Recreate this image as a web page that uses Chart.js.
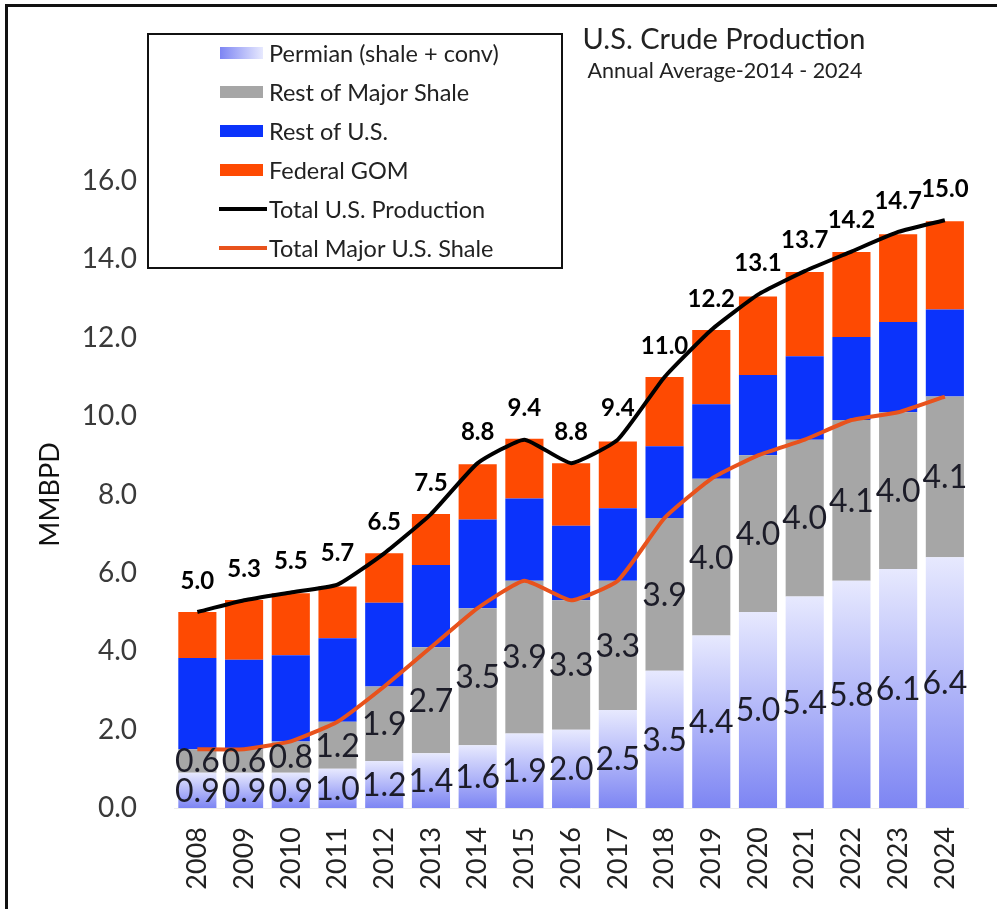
<!DOCTYPE html>
<html>
<head>
<meta charset="utf-8">
<script src="https://cdn.jsdelivr.net/npm/chart.js@4.4.1/dist/chart.umd.min.js"></script>
<style>
    html, body { margin: 0; padding: 0; background: #fff; }
    #wrap { position: relative; width: 997px; height: 909px; overflow: hidden; }
    #frame { position: absolute; left: 5px; top: 4px; right: -10px; bottom: -10px;
             border-top: 3px solid #111; border-left: 3px solid #111; }
    canvas { position: absolute; left: 0; top: 0; }
</style>
</head>
<body>
<div id="wrap">
    <div id="frame"></div>
    <canvas id="chart" width="997" height="909"></canvas>
</div>
<script>
    // Data (MMBPD)
    const years = ["2008","2009","2010","2011","2012","2013","2014","2015","2016",
                   "2017","2018","2019","2020","2021","2022","2023","2024"];
    const permian    = [0.9,0.9,0.9,1.0,1.2,1.4,1.6,1.9,2.0,2.5,3.5,4.4,5.0,5.4,5.8,6.1,6.4];
    const restShale  = [0.6,0.6,0.8,1.2,1.9,2.7,3.5,3.9,3.3,3.3,3.9,4.0,4.0,4.0,4.1,4.0,4.1];
    const restUS     = [2.33,2.28,2.2,2.13,2.14,2.1,2.26,2.1,1.9,1.85,1.83,1.9,2.05,2.13,2.12,2.3,2.22];
    const fedGOM     = [1.17,1.53,1.58,1.32,1.26,1.3,1.41,1.52,1.6,1.7,1.77,1.9,2.0,2.15,2.17,2.24,2.25];
    const totalProd  = [5.0,5.3,5.5,5.7,6.5,7.5,8.8,9.4,8.8,9.4,11.0,12.2,13.1,13.7,14.2,14.7,15.0];
    const majorShale = [1.5,1.5,1.7,2.2,3.1,4.1,5.1,5.8,5.3,5.8,7.4,8.4,9.0,9.4,9.9,10.1,10.5];
    const yTicks     = [0,2,4,6,8,10,12,14,16];

    const FONT = "Lato, 'Open Sans', sans-serif";
    const GRAD_TOP = "#e7e9fe";
    const GRAD_BOT = "#7d85f3";

    function permianFill(ctx) {
        const chart = ctx.chart;
        if (!chart.chartArea || ctx.type !== "data") return GRAD_BOT;
        const y = chart.scales.y;
        const top = y.getPixelForValue(permian[ctx.dataIndex]);
        const g = chart.ctx.createLinearGradient(0, top, 0, y.getPixelForValue(0));
        g.addColorStop(0, GRAD_TOP);
        g.addColorStop(1, GRAD_BOT);
        return g;
    }

    // title + legend box + value labels
    const decor = {
        id: "decor",
        afterDatasetsDraw(chart) {
            const c = chart.ctx;
            c.save();

            // segment labels
            c.font = "32px " + FONT;
            c.fillStyle = "#1c1c28";
            c.textAlign = "center";
            c.textBaseline = "middle";
            [0, 1].forEach((di) => {
                const ds = chart.data.datasets[di];
                chart.getDatasetMeta(di).data.forEach((el, i) => {
                    c.fillText(ds.data[i].toFixed(1), el.x, (el.y + el.base) / 2 + 1);
                });
            });

            // total labels
            c.font = "bold 24px " + FONT;
            c.fillStyle = "#000";
            chart.getDatasetMeta(4).data.forEach((el, i) => {
                c.fillText(totalProd[i].toFixed(1), el.x, el.y - 31);
            });

            // title
            c.fillStyle = "#222";
            c.font = "29px " + FONT;
            c.textBaseline = "alphabetic";
            c.fillText("U.S. Crude Production", 724, 49);
            c.font = "21.5px " + FONT;
            c.fillText("Annual Average-2014 - 2024", 725, 78);

            // legend
            c.fillStyle = "#fff";
            c.fillRect(148, 34, 414, 234);
            c.strokeStyle = "#111";
            c.lineWidth = 2;
            c.strokeRect(148, 34, 414, 234);

            const rows = chart.data.datasets.map((ds) => ds.label);
            c.font = "23.5px " + FONT;
            c.textAlign = "left";
            c.textBaseline = "middle";
            rows.forEach((label, i) => {
                const yy = 53 + i * 39;
                const ds = chart.data.datasets[i];
                if (ds.type === "line") {
                    c.fillStyle = ds.borderColor;
                    c.fillRect(219, yy - 2, 48, 4);
                } else if (i === 0) {
                    const g = c.createLinearGradient(220, 0, 263, 0);
                    g.addColorStop(0, GRAD_BOT);
                    g.addColorStop(1, GRAD_TOP);
                    c.fillStyle = g;
                    c.fillRect(220, yy - 6, 43, 12);
                } else {
                    c.fillStyle = ds.backgroundColor;
                    c.fillRect(220, yy - 6, 43, 12);
                }
                c.fillStyle = "#222";
                c.fillText(label, 269, yy + 1);
            });

            c.restore();
        }
    };

    new Chart(document.getElementById("chart"), {
        type: "bar",
        data: {
            labels: years,
            datasets: [
                { label: "Permian (shale + conv)", data: permian, backgroundColor: permianFill, order: 2 },
                { label: "Rest of Major Shale", data: restShale, backgroundColor: "#a6a6a6", order: 2 },
                { label: "Rest of U.S.", data: restUS, backgroundColor: "#0b33fb", order: 2 },
                { label: "Federal GOM", data: fedGOM, backgroundColor: "#fe4a02", order: 2 },
                { type: "line", label: "Total U.S. Production", data: totalProd, stack: "total",
                  borderColor: "#000", borderWidth: 4, pointRadius: 0, tension: 0.15, order: 0 },
                { type: "line", label: "Total Major U.S. Shale", data: majorShale, stack: "shale",
                  borderColor: "#e8521c", borderWidth: 4, pointRadius: 0, tension: 0.15, order: 1 }
            ]
        },
        options: {
            responsive: false,
            animation: false,
            events: [],
            layout: { padding: { left: 34, top: 181, right: 25, bottom: 0 } },
            datasets: { bar: { categoryPercentage: 1, barPercentage: 0.816 } },
            plugins: { legend: { display: false }, tooltip: { enabled: false } },
            scales: {
                x: {
                    stacked: true,
                    grid: { display: false, drawTicks: false },
                    border: { display: true, color: "#ececec" },
                    ticks: { minRotation: 90, maxRotation: 90, padding: 19, color: "#222",
                             font: { family: FONT, size: 27 } },
                    afterFit(s) { s.height = 101; }
                },
                y: {
                    stacked: true,
                    min: 0, max: 16,
                    grid: { display: false, drawTicks: false },
                    border: { display: false },
                    afterBuildTicks(s) { s.ticks = yTicks.map((v) => ({ value: v })); },
                    ticks: { padding: 37, color: "#3a3a3a",
                             font: { family: FONT, size: 28 },
                             callback: (v) => Number(v).toFixed(1) },
                    title: { display: true, text: "MMBPD", color: "#111", padding: 0,
                             font: { family: FONT, size: 27 } },
                    afterFit(s) { s.width = 140; }
                }
            }
        },
        plugins: [decor]
    });
</script>
</body>
</html>
